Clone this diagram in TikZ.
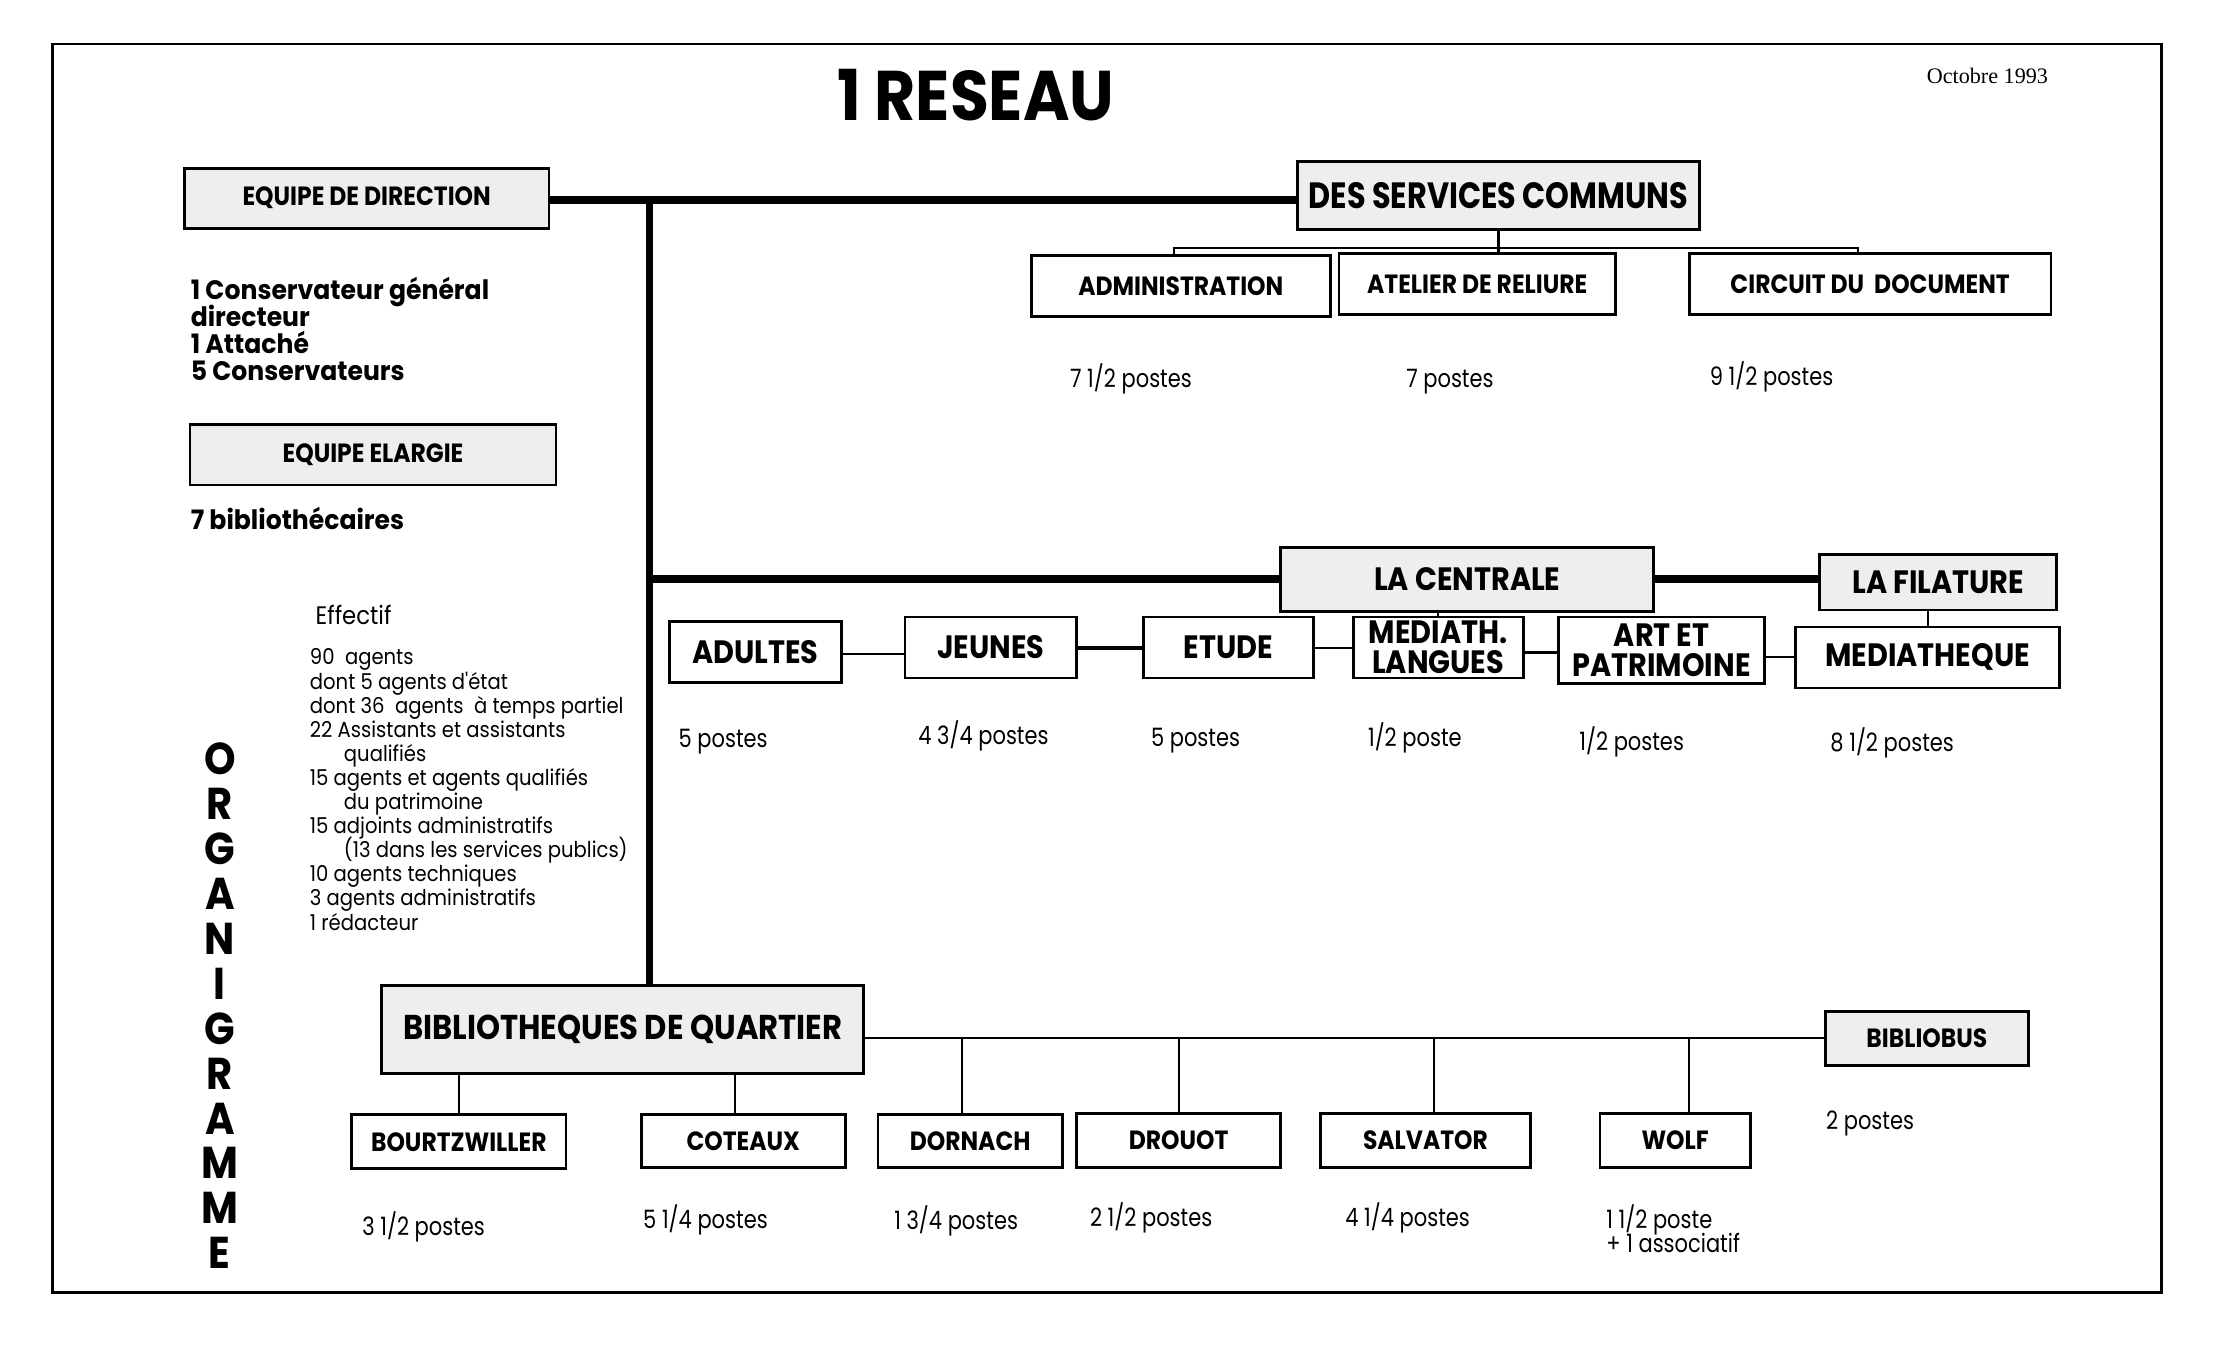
\documentclass[tikz,border=0pt]{standalone}
\usepackage{fontspec}
\setmainfont{Poppins}
\newfontfamily\fR[FakeStretch=0.9]{Poppins}
\newfontfamily\fB[FakeStretch=0.89]{Poppins}
\newfontfamily\fD[FakeStretch=0.83]{Poppins}
\newfontfamily\fW[FakeStretch=0.94]{Poppins}
\newfontfamily\fP[FakeStretch=0.83]{Poppins}
\newfontfamily\fT{Liberation Serif}
\def\U{0.014184cm}
\def\tight{\lineskiplimit=-20pt\lineskip=0pt}
\newcommand\mybox[7]{\node[#1, anchor=north west, minimum width={(#5-#3)*\U}, minimum height={(#6-#4)*\U}] (#2) at (#3,#4) {#7};}
\tikzset{
  box/.style={draw, line width=0.8pt, inner sep=0pt, align=center, font=\fB\bfseries\fontsize{7.5}{8}\selectfont\tight},
  gbox/.style={box, fill=gray!13},
  bigf/.style={font=\fB\bfseries\fontsize{9.2}{8.5}\selectfont\tight},
  thickln/.style={line width=2.4pt},
  thickv/.style={line width=2pt},
  thinln/.style={line width=0.6pt},
  postes/.style={anchor=base west, inner sep=0pt, font=\fP\fontsize{7.2}{7.5}\selectfont\tight},
  txt/.style={inner sep=0pt, align=left}
}
\begin{document}
\begin{tikzpicture}[x=0.014184cm, y=-0.014184cm]
\useasboundingbox (0,0) rectangle (1568,951.8);
\draw[line width=0.8pt] (37,31) rectangle (1524,911);
% title
\node[anchor=base, inner sep=0pt, font=\fR\bfseries\fontsize{20}{20}\selectfont] (title) at (688,85) {1 RESEAU};
\node[anchor=base west, inner sep=0pt, font=\fT\fontsize{6.3}{7}\selectfont] (date) at (1358,59) {Octobre 1993};
% boxes
\mybox{gbox}{dir}{129}{118}{386}{160}{\raisebox{1.2pt}{EQUIPE DE DIRECTION}}
\mybox{gbox,font=\fD\bfseries\fontsize{10.4}{11}\selectfont}{dsc}{914}{113}{1197}{161}{DES SERVICES COMMUNS}
\mybox{box}{adm}{726}{179}{937}{222}{ADMINISTRATION}
\mybox{box}{atl}{943}{178}{1138}{221}{ATELIER DE RELIURE}
\mybox{box}{cir}{1190}{178}{1445}{221}{CIRCUIT DU\ \ DOCUMENT}
\mybox{gbox}{ela}{133}{298}{391}{341}{EQUIPE ELARGIE}
\mybox{gbox,bigf}{cen}{902}{385}{1165}{430}{\raisebox{-0.8pt}{LA CENTRALE}}
\mybox{gbox,bigf}{fil}{1282}{390}{1449}{429}{LA FILATURE}
\mybox{box,bigf}{mth}{1265}{441}{1451}{484}{MEDIATHEQUE}
\mybox{box,bigf}{adu}{471}{437}{592}{480}{ADULTES}
\mybox{box,bigf}{jeu}{637}{434}{758}{477}{\raisebox{-1.2pt}{JEUNES}}
\mybox{box,bigf}{etu}{805}{434}{925}{477}{ETUDE}
\mybox{box,bigf}{med}{953}{434}{1073}{477}{MEDIATH.\\LANGUES}
\mybox{box,bigf}{art}{1098}{434}{1243}{481}{ART ET\\PATRIMOINE}
\mybox{gbox,font=\fB\bfseries\fontsize{9.8}{10}\selectfont}{bq}{268}{694}{608}{756}{\raisebox{-1.5pt}{BIBLIOTHEQUES DE QUARTIER}}
\mybox{gbox}{bib}{1286}{712}{1429}{750}{BIBLIOBUS}
\mybox{box}{bou}{247}{785}{398}{823}{\raisebox{-1.5pt}{BOURTZWILLER}}
\mybox{box}{cot}{451}{785}{595}{822}{COTEAUX}
\mybox{box}{dor}{618}{785}{748}{822}{DORNACH}
\mybox{box}{dro}{758}{784}{902}{822}{DROUOT}
\mybox{box}{sal}{930}{784}{1078}{822}{SALVATOR}
\mybox{box}{wol}{1127}{784}{1233}{822}{WOLF}
% connectors
\coordinate (j1) at (458,141);
\coordinate (j2) at (458,408);
\draw[thickln] (j1 -| dir.east) -- (j1 -| dsc.west);
\draw[thickv] (j1) -- (j1 |- bq.north);
\draw[thickln] (j2) -- (j2 -| cen.west);
\draw[thickln] (j2 -| cen.east) -- (j2 -| fil.west);
\coordinate (b1) at (828,175);
\coordinate (b2) at (1310,175);
\draw[thinln] (b1 |- adm.north) -- (b1) -- (b2) -- (b2 |- cir.north);
\draw[thinln] (dsc.south) -- (dsc.south |- atl.north);
\coordinate (r1) at (0,461);
\coordinate (r2) at (0,457);
\coordinate (r3) at (0,460);
\coordinate (r4) at (0,463);
\draw[thinln] (adu.east |- r1) -- (jeu.west |- r1);
\draw[line width=1pt] (jeu.east |- r2) -- (etu.west |- r2);
\draw[thinln] (etu.east |- r2) -- (med.west |- r2);
\draw[thinln] (med.east |- r3) -- (art.west |- r3);
\draw[thinln] (art.east |- r4) -- (mth.west |- r4);
\draw[thinln] (med.north) -- (med.north |- cen.south);
\draw[thinln] (mth.north |- fil.south) -- (mth.north);
\draw[thinln] (bq.east |- bib.west) -- (bib.west);
\draw[thinln] (bou.north) -- (bou.north |- bq.south);
\draw[thinln] ([xshift=-6*\U]cot.north) -- ([xshift=-6*\U]cot.north |- bq.south);
\draw[thinln] ([xshift=-6*\U]dor.north) -- ([xshift=-6*\U]dor.north |- bib.west);
\draw[thinln] (dro.north) -- (dro.north |- bib.west);
\draw[thinln] ([xshift=6*\U]sal.north) -- ([xshift=6*\U]sal.north |- bib.west);
\draw[thinln] ([xshift=10*\U]wol.north) -- ([xshift=10*\U]wol.north |- bib.west);
% left texts
\node[txt, anchor=north west, font=\fW\bfseries\fontsize{7.6}{7.67}\selectfont\tight] (dirtxt) at (134,195) {1 Conservateur général\\directeur\\1 Attaché\\5 Conservateurs};
\node[txt, anchor=base west, font=\fW\bfseries\fontsize{7.6}{7.67}\selectfont] (elatxt) at (134,373) {7 bibliothécaires};
\node[txt, anchor=base west, font=\fR\fontsize{7.2}{8}\selectfont] (eff) at (222,440) {Effectif};
\node[txt, anchor=north west, font=\fR\fontsize{6.2}{6.86}\selectfont\tight] (list) at (218,457) {90\ \ agents\\dont 5 agents d'état\\dont 36\ \ agents\ \ à temps partiel\\22 Assistants et assistants\\\hspace*{9.7pt}qualifiés\\15 agents et agents qualifiés\\\hspace*{9.7pt}du patrimoine\\15 adjoints administratifs\\\hspace*{9.7pt}(13 dans les services publics)\\10 agents techniques\\3 agents administratifs\\1 rédacteur};
\node[inner sep=0pt, anchor=north, align=center, font=\fR\bfseries\fontsize{12.7}{12.8}\selectfont\tight] (org) at (155,523) {O\\R\\G\\A\\N\\I\\G\\R\\A\\M\\M\\E};
% postes
\node[postes] (p1) at (754,273) {7 1/2 postes};
\node[postes] (p2) at (991,273) {7 postes};
\node[postes] (p3) at (1205,272) {9 1/2 postes};
\node[postes] (p4) at (478,527) {5 postes};
\node[postes] (p5) at (647,525) {4 3/4 postes};
\node[postes] (p6) at (811,526) {5 postes};
\node[postes] (p7) at (964,526) {1/2 poste};
\node[postes] (p8) at (1113,529) {1/2 postes};
\node[postes] (p9) at (1290,530) {8 1/2 postes};
\node[postes] (p10) at (1287,796) {2 postes};
\node[postes] (p11) at (255,871) {3 1/2 postes};
\node[postes] (p12) at (453,866) {5 1/4 postes};
\node[postes] (p13) at (630,867) {1 3/4 postes};
\node[postes] (p14) at (768,865) {2 1/2 postes};
\node[postes] (p15) at (948,865) {4 1/4 postes};
\node[postes, anchor=north west, align=left, font=\fP\fontsize{7.2}{6.86}\selectfont\tight] (p16) at (1132,849) {1 1/2 poste\\+ 1 associatif};
\end{tikzpicture}
\end{document}
